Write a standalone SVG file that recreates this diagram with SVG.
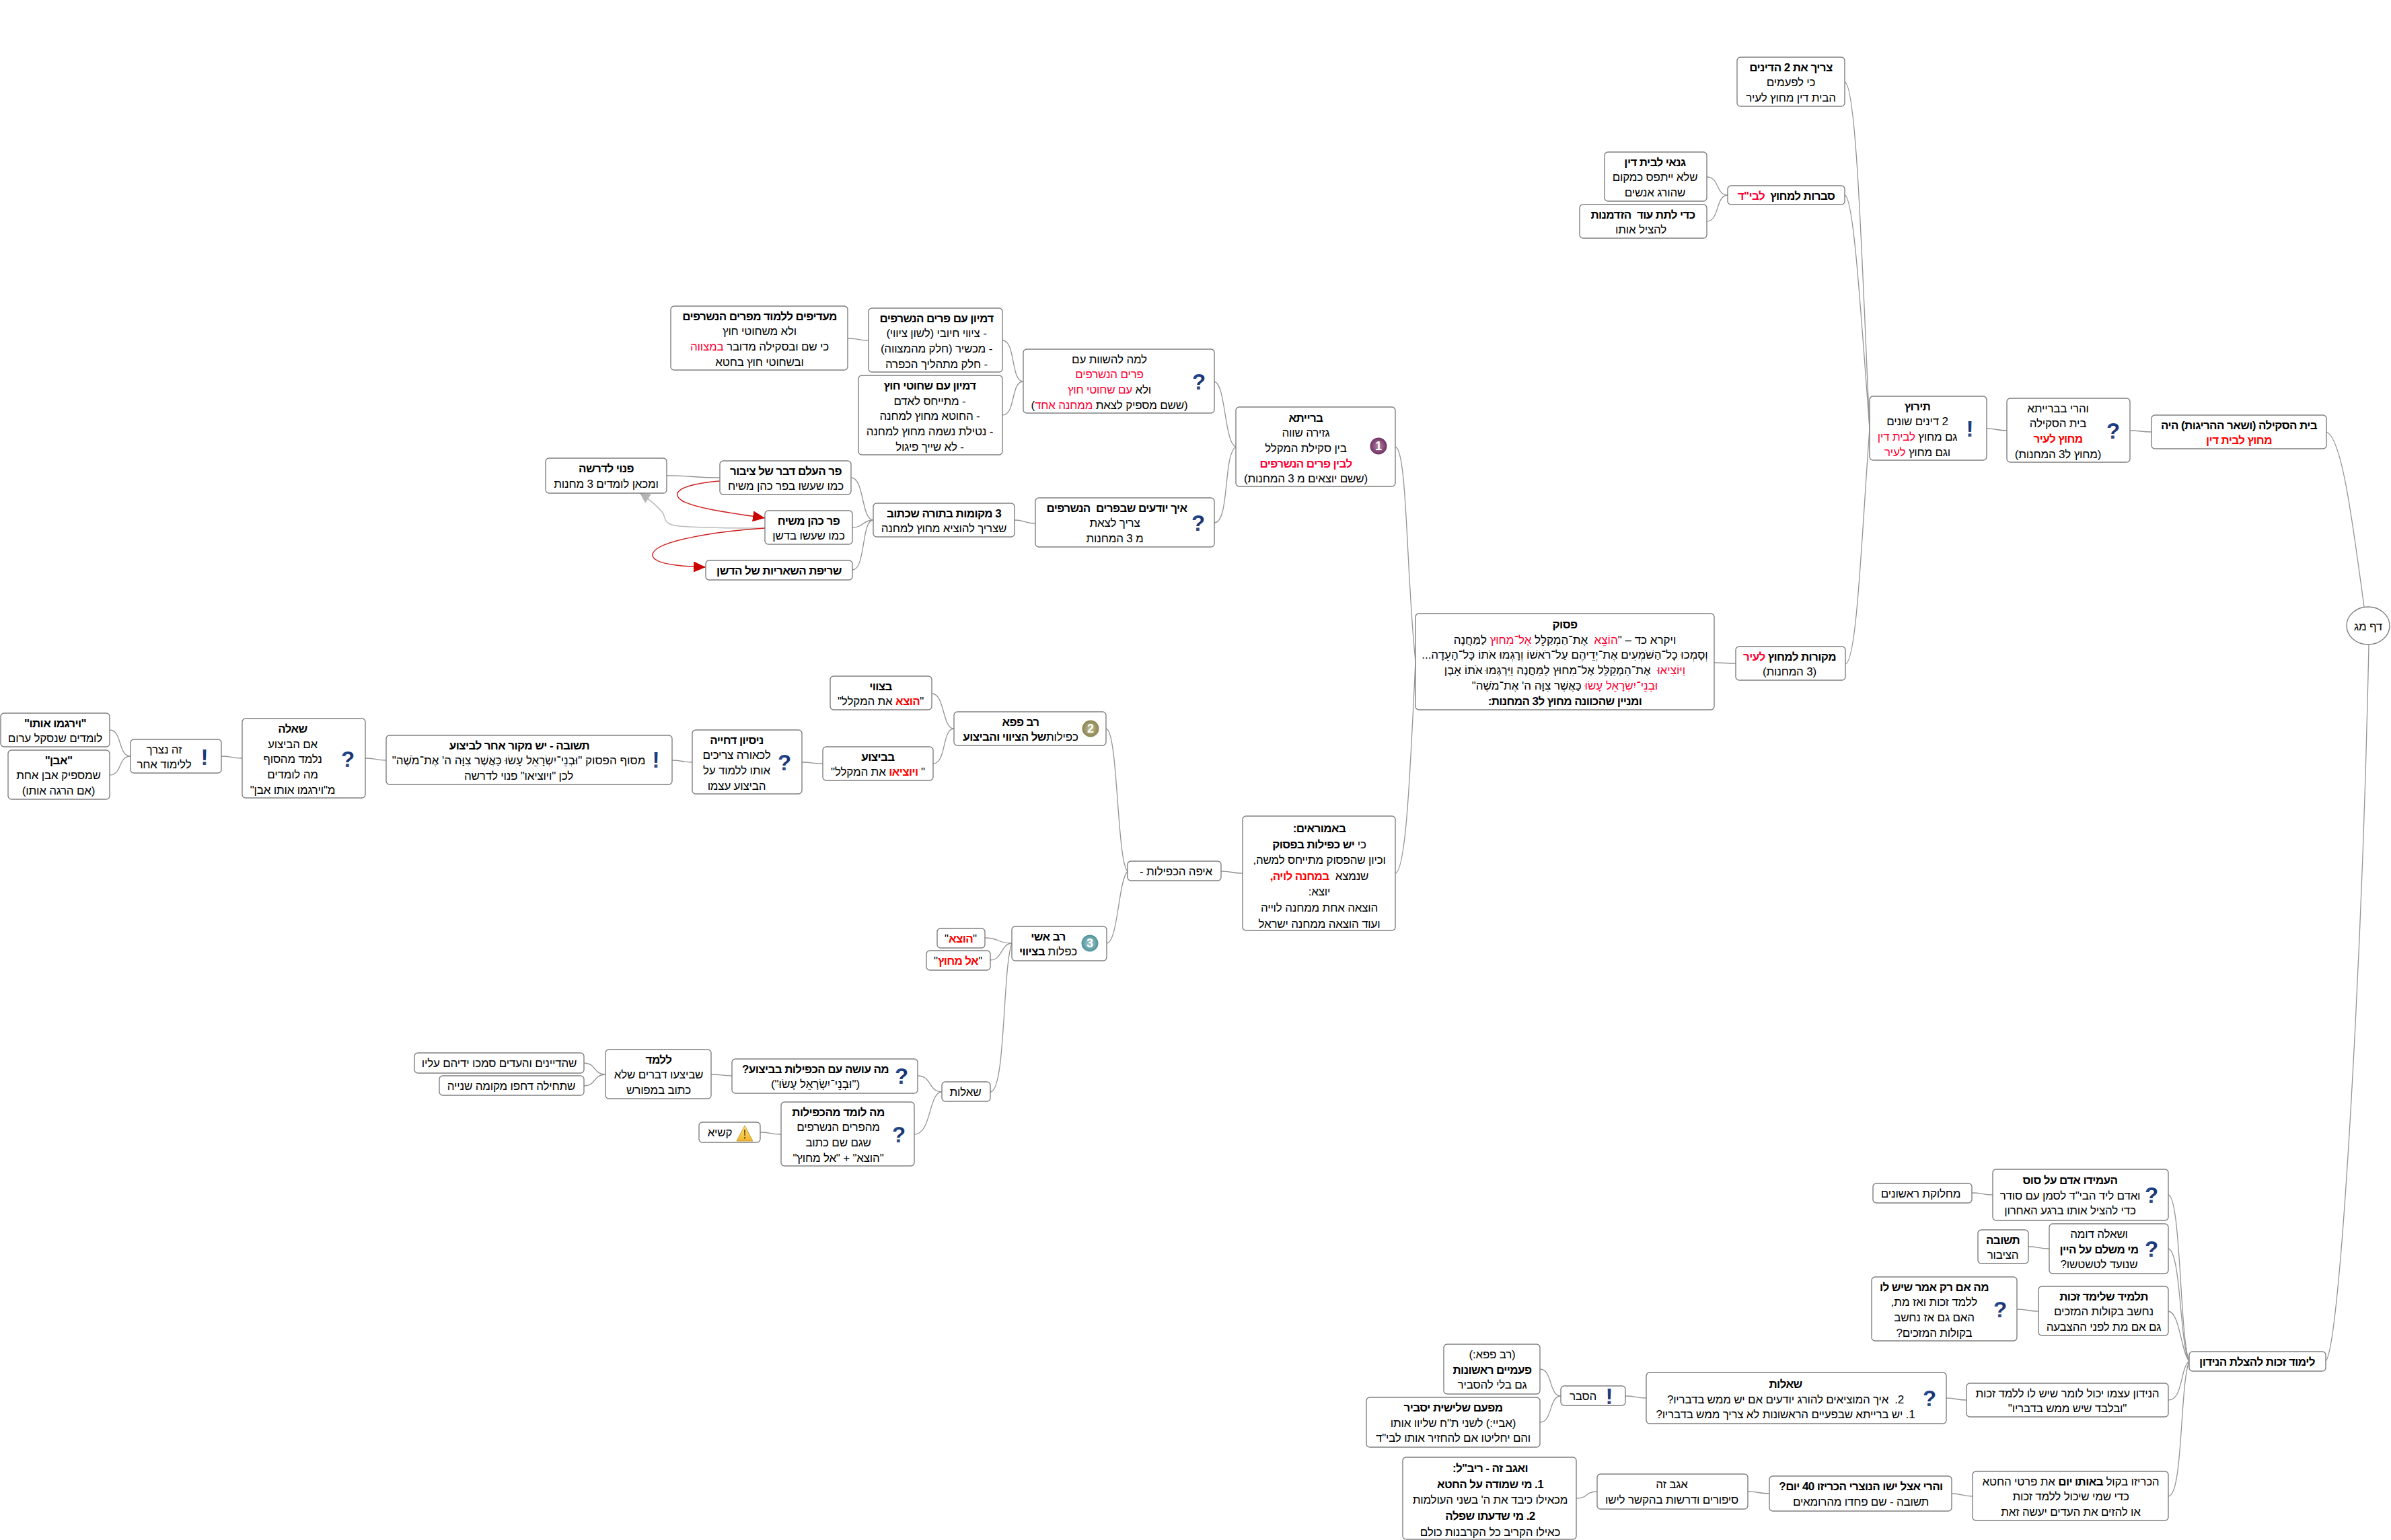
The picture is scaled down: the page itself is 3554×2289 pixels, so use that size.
<svg xmlns="http://www.w3.org/2000/svg" width="3554" height="2289" viewBox="0 0 3554 2289">
<style>
text{font-family:"Liberation Sans",Arial,sans-serif;font-size:17px;letter-spacing:-0.2px;fill:#000;text-anchor:middle;direction:rtl;white-space:pre}
.b{font-weight:bold;letter-spacing:-0.6px}
.nk{letter-spacing:0}
.r{fill:#f00}
.p{fill:#f03}
.rb{fill:#f00;font-weight:bold;letter-spacing:-0.6px}
.pb{fill:#f03;font-weight:bold;letter-spacing:-0.6px}
rect,ellipse.c{fill:#fff;stroke:#808080;stroke-width:1.4}
#connectors path{fill:none;stroke:#949494;stroke-width:1.3}
#connectors path.red{stroke:#d02020;stroke-width:1.5;marker-end:url(#ar)}
#connectors path.gr{stroke:#bbb;stroke-width:1.5;marker-end:url(#ag)}
text.q{font-size:33px;font-weight:bold;letter-spacing:0;fill:url(#gq);direction:ltr}
text.num{font-size:18px;font-weight:bold;letter-spacing:0;fill:#fff;direction:ltr}
</style>
<defs>
<linearGradient id="gq" x1="0" y1="0" x2="0.6" y2="1"><stop offset="0" stop-color="#2f62b0"/><stop offset="0.6" stop-color="#16306f"/><stop offset="1" stop-color="#5a6f98"/></linearGradient>
<radialGradient id="g1"><stop offset="0" stop-color="#b78aab"/><stop offset="1" stop-color="#6f2f63"/></radialGradient>
<radialGradient id="g2"><stop offset="0" stop-color="#c5c09a"/><stop offset="1" stop-color="#8a8450"/></radialGradient>
<radialGradient id="g3"><stop offset="0" stop-color="#a8d0d4"/><stop offset="1" stop-color="#4f9299"/></radialGradient>
<linearGradient id="gw" x1="0" y1="0" x2="0" y2="1"><stop offset="0" stop-color="#ffe680"/><stop offset="1" stop-color="#f0b428"/></linearGradient>
<marker id="ar" markerUnits="userSpaceOnUse" markerWidth="18" markerHeight="16" viewBox="0 0 18 16" refX="18" refY="8" orient="auto"><path d="M0,0L18,8L0,16Z" fill="#cc0000"/></marker>
<marker id="ag" markerUnits="userSpaceOnUse" markerWidth="15" markerHeight="16" viewBox="0 0 15 16" refX="15" refY="8" orient="auto"><path d="M0,0L15,8L0,16Z" fill="#b4b4b4"/></marker>
</defs>
<g id="connectors">
<path d="M2742,122C2760,125 2768,400 2779,637"/>
<path d="M2742,290C2755,292 2765,450 2779,637"/>
<path d="M2743,987C2760,985 2767,800 2779,637"/>
<path d="M2537,263C2556,263 2550,290 2568,290"/>
<path d="M2537,329C2556,329 2550,290 2568,290"/>
<path d="M2953,637C2968,637 2968,640 2983,640"/>
<path d="M3166,640C3182,640 3182,642 3198,642"/>
<path d="M3458,642C3480,650 3495,760 3514,902"/>
<path d="M3457,2023C3480,2000 3512,1400 3521,958"/>
<path d="M2548,985C2564,985 2564,986 2580,986"/>
<path d="M2074,664C2092,668 2090,850 2104,983"/>
<path d="M2074,1298C2090,1295 2096,1150 2104,983"/>
<path d="M1805,567C1822,570 1820,660 1837,664"/>
<path d="M1805,777C1828,777 1818,675 1837,664"/>
<path d="M1490,506C1510,506 1502,567 1521,567"/>
<path d="M1490,617C1510,617 1502,567 1521,567"/>
<path d="M1260,503C1275,503 1275,506 1291,506"/>
<path d="M1508,773C1523,773 1523,778 1539,778"/>
<path d="M1265,710C1285,710 1280,773 1298,773"/>
<path d="M1267,784C1283,784 1283,773 1298,773"/>
<path d="M1267,847C1287,847 1280,773 1298,773"/>
<path d="M991,707C1030,707 1030,710 1070,710"/>
<path d="M1815,1295C1831,1295 1831,1298 1847,1298"/>
<path d="M1644,1083C1662,1085 1660,1280 1676,1295"/>
<path d="M1645,1402C1662,1400 1662,1310 1676,1295"/>
<path d="M1472,1623C1495,1623 1490,1440 1504,1402"/>
<path d="M1464,1394C1486,1394 1482,1402 1504,1402"/>
<path d="M1472,1427C1490,1427 1488,1402 1504,1402"/>
<path d="M1385,1031C1405,1031 1400,1083 1418,1083"/>
<path d="M1387,1135C1407,1135 1400,1083 1418,1083"/>
<path d="M1192,1133C1208,1133 1208,1135 1223,1135"/>
<path d="M999,1130C1014,1130 1014,1133 1029,1133"/>
<path d="M543,1127C558,1127 558,1130 574,1130"/>
<path d="M329,1124C344,1124 344,1127 360,1127"/>
<path d="M163,1085C182,1085 175,1124 194,1124"/>
<path d="M163,1152C182,1152 175,1124 194,1124"/>
<path d="M1364,1599C1385,1599 1380,1623 1400,1623"/>
<path d="M1359,1686C1385,1686 1380,1623 1400,1623"/>
<path d="M1057,1597C1072,1597 1072,1599 1088,1599"/>
<path d="M1130,1683C1145,1683 1145,1686 1161,1686"/>
<path d="M868,1580C886,1580 882,1597 900,1597"/>
<path d="M868,1614C886,1614 882,1597 900,1597"/>
<path d="M3223,1776C3242,1780 3240,1990 3254,2023"/>
<path d="M3223,1856C3242,1860 3240,2000 3254,2023"/>
<path d="M3223,1949C3240,1950 3242,2010 3254,2023"/>
<path d="M3223,2081C3245,2081 3240,2035 3254,2023"/>
<path d="M3223,2224C3245,2224 3240,2060 3254,2023"/>
<path d="M2931,1773C2946,1773 2946,1776 2962,1776"/>
<path d="M3015,1853C3030,1853 3030,1856 3046,1856"/>
<path d="M2998,1946C3014,1946 3014,1949 3030,1949"/>
<path d="M2893,2078C2908,2078 2908,2081 2923,2081"/>
<path d="M2416,2075C2431,2075 2431,2078 2447,2078"/>
<path d="M2289,2035C2308,2035 2302,2075 2320,2075"/>
<path d="M2289,2114C2308,2114 2302,2075 2320,2075"/>
<path d="M2901,2220C2916,2220 2916,2224 2932,2224"/>
<path d="M2598,2217C2614,2217 2614,2220 2630,2220"/>
<path d="M2343,2227C2362,2227 2355,2217 2374,2217"/>
<path class="gr" d="M1137,785C1100,785 1040,785 1010,782C985,780 990,770 985,762C975,750 965,742 951,733"/>
<path class="red" d="M1070,715C1010,720 995,733 1015,745C1040,757 1090,763 1137,770"/>
<path class="red" d="M1137,785C1060,790 970,805 970,825C970,838 1010,842 1049,843"/>
</g>

<g id="n-tzarich"><rect x="2582" y="85" width="160" height="73" rx="5"/><text y="105.5"><tspan x="2662" class="b">צריך את 2 הדינים</tspan><tspan x="2662" dy="22.7">כי לפעמים</tspan><tspan x="2662" dy="22.7">הבית דין מחוץ לעיר</tspan></text></g>
<g id="n-svarot"><rect x="2568" y="276" width="174" height="28" rx="5"/><text y="296.5"><tspan x="2655" class="b">סברות למחוץ  <tspan class="pb">לבי"ד</tspan></tspan></text></g>
<g id="n-gnai"><rect x="2385" y="226" width="152" height="73" rx="5"/><text y="246.5"><tspan x="2460" class="b">גנאי לבית דין</tspan><tspan x="2460" dy="22.7">שלא ייתפס כמקום</tspan><tspan x="2460" dy="22.7">שהורג אנשים</tspan></text></g>
<g id="n-kdei"><rect x="2348" y="304" width="189" height="50" rx="5"/><text y="324.5"><tspan x="2442" class="b">כדי לתת עוד  הזדמנות</tspan><tspan x="2439" dy="22.7">להציל אותו</tspan></text></g>
<g id="n-teirutz"><rect x="2779" y="589" width="174" height="95" rx="5"/><text y="609.5"><tspan x="2850" class="b">תירוץ</tspan><tspan x="2850" dy="22.7">2 דינים שונים</tspan><tspan x="2850" dy="22.7">גם מחוץ <tspan class="p">לבית דין</tspan></tspan><tspan x="2850" dy="22.7">וגם מחוץ <tspan class="p">לעיר</tspan></tspan></text><text class="q" x="2928" y="649">!</text></g>
<g id="n-vaharei"><rect x="2983" y="592" width="183" height="95" rx="5"/><text y="612.5"><tspan x="3059">והרי בברייתא</tspan><tspan x="3059" dy="22.7">בית הסקילה</tspan><tspan x="3059" dy="22.7" class="rb">מחוץ לעיר</tspan><tspan x="3059" dy="22.7">(מחוץ ל3 המחנות)</tspan></text><text class="q" x="3141" y="652">?</text></g>
<g id="n-beit"><rect x="3198" y="617" width="260" height="50" rx="5"/><text y="637.5"><tspan x="3328" class="b">בית הסקילה (ושאר ההריגות) היה</tspan><tspan x="3328" dy="22.7" class="rb">מחוץ לבית דין</tspan></text></g>
<g id="n-root"><ellipse class="c" cx="3520" cy="930" rx="32" ry="28"/><text x="3520" y="937">דף מג</text></g>
<g id="n-mekorot"><rect x="2580" y="961" width="163" height="50" rx="5"/><text y="981.5"><tspan x="2660" class="b">מקורות למחוץ <tspan class="pb">לעיר</tspan></tspan><tspan x="2660" dy="22.7">(3 המחנות)</tspan></text></g>
<g id="n-pasuk"><rect x="2104" y="912" width="444" height="143" rx="5"/><text y="934"><tspan x="2326" class="b">פסוק</tspan><tspan x="2326" dy="22.7" class="nk">ויקרא כד – "<tspan class="p">הוֹצֵא</tspan>  אֶת־הַמְקַלֵּל <tspan class="p">אֶל־מִחוּץ</tspan> לַמַּחֲנֶה</tspan><tspan x="2326" dy="22.7" class="nk">וְסָמְכוּ כָל־הַשֹּׁמְעִים אֶת־יְדֵיהֶם עַל־רֹאשׁוֹ וְרָגְמוּ אֹתוֹ כָּל־הָעֵדָה...</tspan><tspan x="2326" dy="22.7" class="nk"><tspan class="p">וַיּוֹצִיאוּ</tspan>  אֶת־הַמְקַלֵּל אֶל־מִחוּץ לַמַּחֲנֶה וַיִּרְגְּמוּ אֹתוֹ אָבֶן</tspan><tspan x="2326" dy="22.7" class="nk"><tspan class="p">וּבְנֵי־יִשְׂרָאֵל עָשׂוּ</tspan> כַּאֲשֶׁר צִוָּה ה' אֶת־מֹשֶׁה"</tspan><tspan x="2326" dy="22.7" class="b">ומניין שהכוונה מחוץ ל3 המחנות:</tspan></text></g>
<g id="n-braita"><rect x="1837" y="605" width="237" height="118" rx="5"/><text y="626.5"><tspan x="1941" class="b">ברייתא</tspan><tspan x="1941" dy="22.7">גזירה שווה</tspan><tspan x="1941" dy="22.7">בין סקילת המקלל</tspan><tspan x="1941" dy="22.7" class="pb">לבין פרים הנשרפים</tspan><tspan x="1941" dy="22.7">(ששם יוצאים מ 3 המחנות)</tspan></text><circle cx="2049" cy="663" r="12.500" fill="url(#g1)"/><text class="num" x="2049" y="669">1</text></g>
<g id="n-lama"><rect x="1521" y="519" width="284" height="95" rx="5"/><text y="539.5"><tspan x="1649">למה להשוות עם</tspan><tspan x="1649" dy="22.7" class="p">פרים הנשרפים</tspan><tspan x="1649" dy="22.7">ולא <tspan class="p">עם שחוטי חוץ</tspan></tspan><tspan x="1649" dy="22.7">(ששם מספיק לצאת <tspan class="p">ממחנה אחד</tspan>)</tspan></text><text class="q" x="1782" y="579">?</text></g>
<g id="n-dimyon1"><rect x="1291" y="458" width="199" height="95" rx="5"/><text y="478.5"><tspan x="1392" class="b">דמיון עם פרים הנשרפים</tspan><tspan x="1392" dy="22.7">- ציווי חיובי (לשון ציווי)</tspan><tspan x="1392" dy="22.7">- מכשיר (חלק מהמצווה)</tspan><tspan x="1392" dy="22.7">- חלק מתהליך הכפרה</tspan></text></g>
<g id="n-dimyon2"><rect x="1276" y="558" width="214" height="118" rx="5"/><text y="579"><tspan x="1382" class="b">דמיון עם שחוטי חוץ</tspan><tspan x="1382" dy="22.7">- מתייחס לאדם</tspan><tspan x="1382" dy="22.7">- החוטא מחוץ למחנה</tspan><tspan x="1382" dy="22.7">- נטילת נשמה מחוץ למחנה</tspan><tspan x="1382" dy="22.7">- לא שייך פיגול</tspan></text></g>
<g id="n-maadifim"><rect x="997" y="455" width="263" height="95" rx="5"/><text y="475.5"><tspan x="1129" class="b">מעדיפים ללמוד מפרים הנשרפים</tspan><tspan x="1129" dy="22.7">ולא משחוטי חוץ</tspan><tspan x="1129" dy="22.7">כי שם ובסקילה מדובר <tspan class="p">במצווה</tspan></tspan><tspan x="1129" dy="22.7">ובשחוטי חוץ בחטא</tspan></text></g>
<g id="n-eich"><rect x="1539" y="740" width="266" height="73" rx="5"/><text y="760.5"><tspan x="1660" class="b">איך יודעים שבפרים  הנשרפים</tspan><tspan x="1657" dy="22.7">צריך לצאת</tspan><tspan x="1657" dy="22.7">מ 3 המחנות</tspan></text><text class="q" x="1781" y="789">?</text></g>
<g id="n-3mekomot"><rect x="1298" y="748" width="210" height="50" rx="5"/><text y="768.5"><tspan x="1403" class="b">3 מקומות בתורה שכתוב</tspan><tspan x="1403" dy="22.7">שצריך להוציא מחוץ למחנה</tspan></text></g>
<g id="n-par1"><rect x="1070" y="685" width="195" height="50" rx="5"/><text y="705.5"><tspan x="1168" class="b">פר העלם דבר של ציבור</tspan><tspan x="1168" dy="22.7">כמו שעשו בפר כהן משיח</tspan></text></g>
<g id="n-par2"><rect x="1137" y="759" width="130" height="50" rx="5"/><text y="779.5"><tspan x="1202" class="b">פר כהן משיח</tspan><tspan x="1202" dy="22.7">כמו שעשו בדשן</tspan></text></g>
<g id="n-sreifa"><rect x="1049" y="833" width="218" height="29" rx="5"/><text x="1158" y="853.5" class="b">שריפת השאריות של הדשן</text></g>
<g id="n-panui"><rect x="811" y="681" width="180" height="52" rx="5"/><text y="702"><tspan x="901" class="b">פנוי לדרשה</tspan><tspan x="901" dy="22.7">ומכאן לומדים 3 מחנות</tspan></text></g>

<g id="n-amoraim"><rect x="1847" y="1213" width="227" height="170" rx="5"/><text y="1237"><tspan x="1961" class="b">באמוראים:</tspan><tspan x="1961" dy="23.6">כי <tspan class="b">יש כפילות בפסוק</tspan></tspan><tspan x="1961" dy="23.6">וכיון שהפסוק מתייחס למשה,</tspan><tspan x="1961" dy="23.6">שנמצא  <tspan class="rb">במחנה לויה,</tspan></tspan><tspan x="1961" dy="23.6">יוצא:</tspan><tspan x="1961" dy="23.6">הוצאה אחת ממחנה לוייה</tspan><tspan x="1961" dy="23.6">ועוד הוצאה ממחנה ישראל</tspan></text></g>
<g id="n-eifo"><rect x="1676" y="1280" width="139" height="29" rx="5"/><text x="1748" y="1300.5">איפה הכפילות -</text></g>
<g id="n-ravpapa"><rect x="1418" y="1058" width="226" height="50" rx="5"/><text y="1078.5"><tspan x="1517" class="b">רב פפא</tspan><tspan x="1517" dy="22.7">כפילות<tspan class="b">של הציווי והביצוע</tspan></tspan></text><circle cx="1621" cy="1083" r="12.500" fill="url(#g2)"/><text class="num" x="1621" y="1089">2</text></g>
<g id="n-btzivui"><rect x="1234" y="1005" width="151" height="50" rx="5"/><text y="1025.5"><tspan x="1309" class="b">בצווי</tspan><tspan x="1309" dy="22.7">"<tspan class="rb">הוצא</tspan> את המקלל"</tspan></text></g>
<g id="n-bbitzua"><rect x="1223" y="1110" width="164" height="50" rx="5"/><text y="1130.5"><tspan x="1305" class="b">בביצוע</tspan><tspan x="1305" dy="22.7">" <tspan class="rb">ויוציאו</tspan> את המקלל"</tspan></text></g>
<g id="n-nisayon"><rect x="1029" y="1085" width="163" height="95" rx="5"/><text y="1105.5"><tspan x="1095" class="b">ניסיון דחייה</tspan><tspan x="1095" dy="22.7">לכאורה צריכים</tspan><tspan x="1095" dy="22.7">אותו ללמוד על</tspan><tspan x="1095" dy="22.7">הביצוע עצמו</tspan></text><text class="q" x="1166" y="1145">?</text></g>
<g id="n-tshuva"><rect x="574" y="1093" width="425" height="73" rx="5"/><text y="1113.5"><tspan x="772" class="b">תשובה - יש מקור אחר לביצוע</tspan><tspan x="771" dy="22.7" class="nk">מסוף הפסוק "וּבְנֵי־יִשְׂרָאֵל עָשׂוּ כַּאֲשֶׁר צִוָּה ה' אֶת־מֹשֶׁה"</tspan><tspan x="771" dy="22.7">לכן "ויוציאו" פנוי לדרשה</tspan></text><text class="q" x="975" y="1141">!</text></g>
<g id="n-sheela"><rect x="360" y="1068" width="183" height="118" rx="5"/><text y="1089"><tspan x="435" class="b">שאלה</tspan><tspan x="435" dy="22.7">אם הביצוע</tspan><tspan x="435" dy="22.7">נלמד מהסוף</tspan><tspan x="435" dy="22.7">מה לומדים</tspan><tspan x="435" dy="22.7">מ"וירגמו אותו אבן"</tspan></text><text class="q" x="517" y="1140">?</text></g>
<g id="n-zeh"><rect x="194" y="1099" width="135" height="50" rx="5"/><text y="1119.5"><tspan x="244">זה נצרך</tspan><tspan x="244" dy="22.7">ללימוד אחר</tspan></text><text class="q" x="304" y="1137">!</text></g>
<g id="n-vayirgemu"><rect x="1" y="1060" width="162" height="50" rx="5"/><text y="1080.5"><tspan x="82" class="b">"וירגמו אותו"</tspan><tspan x="82" dy="22.7">לומדים שנסקל ערום</tspan></text></g>
<g id="n-even"><rect x="12" y="1115" width="151" height="73" rx="5"/><text y="1135.5"><tspan x="87" class="b">"אבן"</tspan><tspan x="87" dy="22.7">שמספיק אבן אחת</tspan><tspan x="87" dy="22.7">(אם הרגה אותו)</tspan></text></g>
<g id="n-ravashi"><rect x="1504" y="1377" width="141" height="51" rx="5"/><text y="1397.5"><tspan x="1558" class="b">רב אשי</tspan><tspan x="1558" dy="22.7">כפלות <tspan class="b">בציווי</tspan></tspan></text><circle cx="1620" cy="1402" r="12.500" fill="url(#g3)"/><text class="num" x="1620" y="1408">3</text></g>
<g id="n-hotze"><rect x="1393" y="1380" width="71" height="29" rx="5"/><text x="1428" y="1400.5">"<tspan class="rb">הוצא</tspan>"</text></g>
<g id="n-elmichutz"><rect x="1377" y="1413" width="95" height="29" rx="5"/><text x="1424" y="1433.5">"<tspan class="rb">אל מחוץ</tspan>"</text></g>
<g id="n-sheelot1"><rect x="1400" y="1608" width="72" height="29" rx="5"/><text x="1435" y="1628.5">שאלות</text></g>
<g id="n-maose"><rect x="1088" y="1574" width="276" height="51" rx="5"/><text y="1594.5"><tspan x="1212" class="b">מה עושה עם הכפילות בביצוע?</tspan><tspan x="1212" dy="22.7" class="nk">("וּבְנֵי־יִשְׂרָאֵל עָשׂוּ")</tspan></text><text class="q" x="1340" y="1611">?</text></g>
<g id="n-malomed"><rect x="1161" y="1638" width="198" height="95" rx="5"/><text y="1658.5"><tspan x="1246" class="b">מה לומד מהכפילות</tspan><tspan x="1246" dy="22.7">מהפרים הנשרפים</tspan><tspan x="1246" dy="22.7">שגם שם כתוב</tspan><tspan x="1246" dy="22.7">"הוצא" + "אל מחוץ"</tspan></text><text class="q" x="1336" y="1698">?</text></g>
<g id="n-kashya"><rect x="1039" y="1668" width="91" height="30" rx="5"/><text x="1070" y="1689">קשיא</text><path d="M1107,1673L1119,1696H1095Z" fill="url(#gw)" stroke="#c89a30"/><path d="M1106,1679h2l-.3,9h-1.4ZM1106,1690h2v2.500h-2Z" fill="#7a4a10"/></g>
<g id="n-lelamed"><rect x="900" y="1560" width="157" height="73" rx="5"/><text y="1580.5"><tspan x="979" class="b">ללמד</tspan><tspan x="979" dy="22.7">שביצעו דברים שלא</tspan><tspan x="979" dy="22.7">כתוב במפורש</tspan></text></g>
<g id="n-hadayanim"><rect x="616" y="1565" width="252" height="30" rx="5"/><text x="742" y="1586">שהדיינים והעדים סמכו ידיהם עליו</text></g>
<g id="n-shetchila"><rect x="653" y="1599" width="215" height="29" rx="5"/><text x="760" y="1619.5">שתחילה דחפו מקומה שנייה</text></g>

<g id="n-limud"><rect x="3254" y="2009" width="203" height="29" rx="5"/><text x="3355" y="2029.5" class="b">לימוד זכות להצלת הנידון</text></g>
<g id="n-heemidu"><rect x="2962" y="1738" width="261" height="76" rx="5"/><text y="1760"><tspan x="3077" class="b">העמידו אדם על סוס</tspan><tspan x="3077" dy="22.7">ואדם ליד הבי"ד לסמן עם סודר</tspan><tspan x="3077" dy="22.7">כדי להציל אותו ברגע האחרון</tspan></text><text class="q" x="3198" y="1788">?</text></g>
<g id="n-machloket"><rect x="2784" y="1759" width="147" height="29" rx="5"/><text x="2855" y="1779.5">מחלוקת ראשונים</text></g>
<g id="n-vesheela"><rect x="3046" y="1819" width="177" height="74" rx="5"/><text y="1840"><tspan x="3120">ושאלה דומה</tspan><tspan x="3120" dy="22.7" class="b">מי משלם על היין</tspan><tspan x="3120" dy="22.7">שנועד לטשטשו?</tspan></text><text class="q" x="3198" y="1868">?</text></g>
<g id="n-tshuva2"><rect x="2940" y="1828" width="75" height="50" rx="5"/><text y="1848.5"><tspan x="2977" class="b">תשובה</tspan><tspan x="2977" dy="22.7">הציבור</tspan></text></g>
<g id="n-talmid"><rect x="3030" y="1912" width="193" height="73" rx="5"/><text y="1932.5"><tspan x="3127" class="b">תלמיד שלימד זכות</tspan><tspan x="3127" dy="22.7">נחשב בקולות המזכים</tspan><tspan x="3127" dy="22.7">גם אם מת לפני ההצבעה</tspan></text></g>
<g id="n-maim"><rect x="2782" y="1898" width="216" height="95" rx="5"/><text y="1918.5"><tspan x="2875" class="b">מה אם רק אמר שיש לו</tspan><tspan x="2875" dy="22.7">ללמד זכות ואז מת,</tspan><tspan x="2875" dy="22.7">האם גם אז נחשב</tspan><tspan x="2875" dy="22.7">בקולות המזכים?</tspan></text><text class="q" x="2973" y="1958">?</text></g>
<g id="n-hanidon"><rect x="2923" y="2056" width="300" height="50" rx="5"/><text y="2076.5"><tspan x="3073">הנידון עצמו יכול לומר שיש לו ללמד זכות</tspan><tspan x="3073" dy="22.7">"ובלבד שיש ממש בדבריו"</tspan></text></g>
<g id="n-sheelot2"><rect x="2447" y="2040" width="446" height="76" rx="5"/><text y="2063"><tspan x="2654" class="b">שאלות</tspan><tspan x="2654" dy="22.7">2.  איך המוציאים להורג יודעים אם יש ממש בדבריו?</tspan><tspan x="2654" dy="22.7">1. יש ברייתא שבפעיים הראשונות לא צריך ממש בדבריו?</tspan></text><text class="q" x="2868" y="2090">?</text></g>
<g id="n-hesber"><rect x="2320" y="2060" width="96" height="29" rx="5"/><text x="2353" y="2080.5">הסבר</text><text class="q" x="2392" y="2087">!</text></g>
<g id="n-papa2"><rect x="2146" y="1998" width="143" height="74" rx="5"/><text y="2019"><tspan x="2218">(רב פפא:)</tspan><tspan x="2218" dy="22.7" class="b">פעמיים ראשונות</tspan><tspan x="2218" dy="22.7">גם בלי להסביר</tspan></text></g>
<g id="n-mipaam"><rect x="2031" y="2077" width="258" height="74" rx="5"/><text y="2098"><tspan x="2160" class="b">מפעם שלישית יסביר</tspan><tspan x="2160" dy="22.7">(אביי:) לשני ת"ח שליוו אותו</tspan><tspan x="2160" dy="22.7">והם יחליטו אם להחזיר אותו לבי"ד</tspan></text></g>
<g id="n-hichrizu"><rect x="2932" y="2187" width="291" height="73" rx="5"/><text y="2207.5"><tspan x="3078">הכריזו בקול <tspan class="b">באותו יום</tspan> את פרטי החטא</tspan><tspan x="3078" dy="22.7">כדי שמי שיכול ללמד זכות</tspan><tspan x="3078" dy="22.7">או להזים את העדים יעשה זאת</tspan></text></g>
<g id="n-yeshu"><rect x="2630" y="2194" width="271" height="52" rx="5"/><text y="2215"><tspan x="2766" class="b">והרי אצל ישו הנוצרי הכריזו 40 יום?</tspan><tspan x="2766" dy="22.7">תשובה - שם פחדו מהרומאים</tspan></text></g>
<g id="n-agav"><rect x="2374" y="2191" width="224" height="52" rx="5"/><text y="2212"><tspan x="2485">אגב זה</tspan><tspan x="2485" dy="22.7">סיפורים ודרשות בהקשר לישו</tspan></text></g>
<g id="n-veagav"><rect x="2085" y="2166" width="258" height="122" rx="5"/><text y="2188"><tspan x="2215" class="b">ואגב זה - ריב"ל:</tspan><tspan x="2215" dy="23.700" class="b">1. מי שמודה על החטא</tspan><tspan x="2215" dy="23.700">מכאילו כיבד את ה' בשני העולמות</tspan><tspan x="2215" dy="23.700" class="b">2. מי שדעתו שפלה</tspan><tspan x="2215" dy="23.700">כאילו הקריב כל הקרבנות כולם</tspan></text></g>
</svg>
